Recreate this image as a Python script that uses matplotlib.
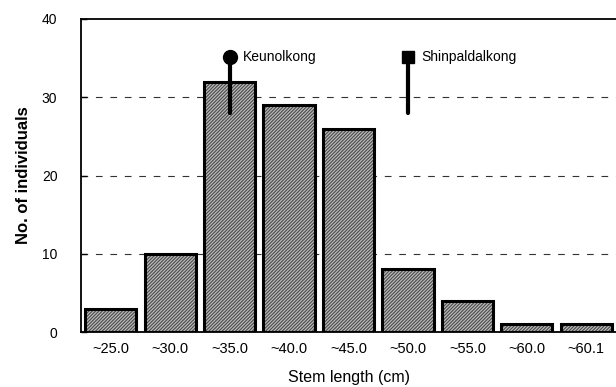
import matplotlib
matplotlib.use("Agg")
import matplotlib.pyplot as plt

plt.rcParams['font.family'] = ['Liberation Sans', 'DejaVu Sans']
plt.rcParams['hatch.linewidth'] = 0.8

# data
classes = ['~25.0', '~30.0', '~35.0', '~40.0', '~45.0', '~50.0', '~55.0', '~60.0', '~60.1']
counts = [3, 10, 32, 29, 26, 8, 4, 1, 1]
# cultivar marks: (name, class index, top, bottom, marker)
cultivars = [('Keunolkong', 2, 35.2, 28, 'o'),
             ('Shinpaldalkong', 5, 35.2, 28, 's')]

fig = plt.figure(figsize=(6.16, 3.87), dpi=100)
ax = fig.add_axes([0.1315, 0.142, 0.8685, 0.809])

x = range(len(classes))
# hatched fill first, black outline on top
ax.bar(x, counts, width=0.86, color='#bababa', edgecolor='#4a4a4a',
       hatch='//////////', linewidth=0, zorder=2)
ax.bar(x, counts, width=0.86, fill=False, edgecolor='black',
       linewidth=2.2, zorder=3)

for name, xi, top, bottom, mk in cultivars:
    ax.plot([xi, xi], [bottom, top], color='black', lw=3, zorder=4,
            solid_capstyle='round')
    ax.plot(xi, top, marker=mk, color='black',
            markersize=10 if mk == 'o' else 8, zorder=5)
    ax.text(xi + 0.22, top, name, fontsize=10, va='center', ha='left')

ax.set_xlim(-0.5, 8.5)
ax.set_ylim(0, 40)
ax.set_yticks([0, 10, 20, 30, 40])
ax.set_xticks(list(x))
ax.set_xticklabels(classes)
ax.tick_params(axis='x', length=0, labelsize=10.5, pad=7)
ax.tick_params(axis='y', direction='in', length=4, width=1, labelsize=10, pad=17)

for yv in [10, 20, 30]:
    ax.axhline(yv, color='#333333', lw=0.8, ls=(0, (6, 7)), zorder=1)

ax.spines['right'].set_visible(False)
for s in ['left', 'top', 'bottom']:
    ax.spines[s].set_linewidth(1.3)

ax.set_xlabel('Stem length (cm)', fontsize=11.5, labelpad=10)
ax.set_ylabel('No. of individuals', fontsize=12, fontweight='bold', labelpad=8)

fig.savefig('out.png', dpi=100)
